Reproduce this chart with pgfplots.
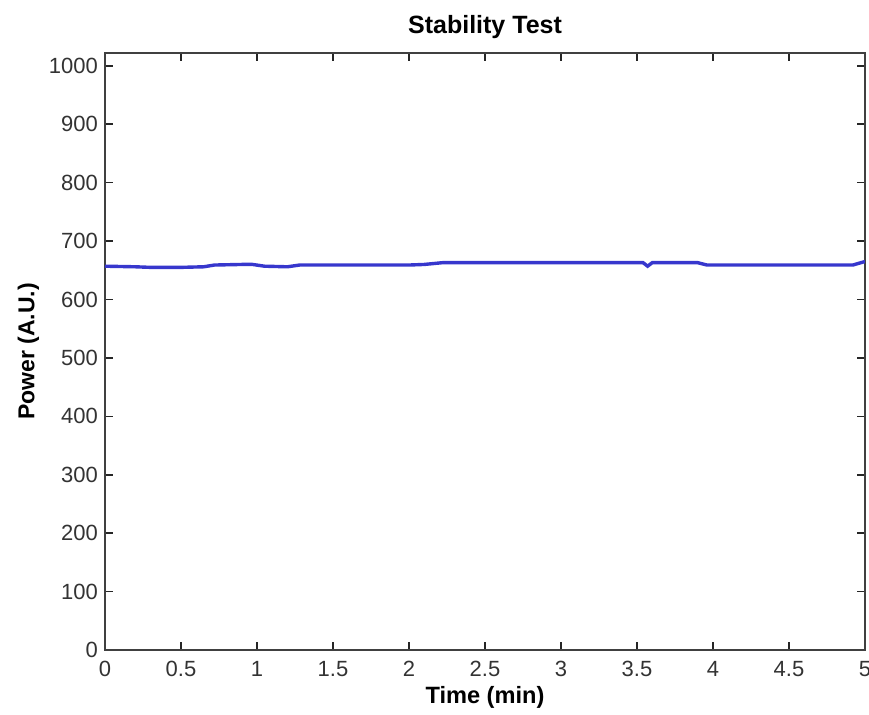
\documentclass[border=0pt]{standalone}
\usepackage{fontspec}
\setmainfont{Liberation Sans}
\usepackage{pgfplots}
\pgfplotsset{compat=1.18}
\begin{document}
\begin{tikzpicture}[x=0.5pt,y=0.5pt]
\path[use as bounding box] (-105,-65) rectangle (764,650);
\begin{axis}[
  at={(0,0)}, anchor=south west,
  scale only axis, width=380pt, height=298.5pt,
  xmin=0, xmax=5, ymin=0, ymax=1022,
  xtick={0,0.5,...,5}, ytick={0,100,...,1000},
  xticklabels={0,0.5,1,1.5,2,2.5,3,3.5,4,4.5,5},
  yticklabel style={/pgf/number format/1000 sep={}},
  tick align=inside, major tick length=4pt,
  tick style={black!85, line width=0.8pt},
  axis line style={line width=1pt, black!75},
  /pgf/number format/assume math mode=true,
  ticklabel style={font=\fontsize{11}{13}\selectfont, text=black!80},
  xticklabel style={yshift=-2pt},
  title={\bfseries Stability Test},
  title style={font=\fontsize{12.5}{14}\selectfont, at={(0.5,1)}, anchor=base, yshift=3.5pt},
  xlabel={\bfseries Time (min)},
  xlabel style={font=\fontsize{11.8}{13}\selectfont, yshift=2pt},
  ylabel={\bfseries Power (A.U.)},
  ylabel style={font=\fontsize{11.5}{13}\selectfont, yshift=-2pt},
  every axis plot/.append style={no marks}
]
\addplot[color={rgb,255:red,55;green,55;blue,205}, line width=1.7pt] coordinates {
(0,657) (0.2,656) (0.3,655) (0.5,655) (0.65,656) (0.72,659) (0.9,660) (0.97,660)
(1.05,657) (1.2,656) (1.28,659) (1.5,659) (2.0,659) (2.1,660) (2.22,663) (2.5,663)
(3.0,663) (3.54,663) (3.57,657) (3.6,663) (3.9,663) (3.96,659) (4.5,659) (4.92,659) (5.0,665)};
\end{axis}
\end{tikzpicture}
\end{document}
